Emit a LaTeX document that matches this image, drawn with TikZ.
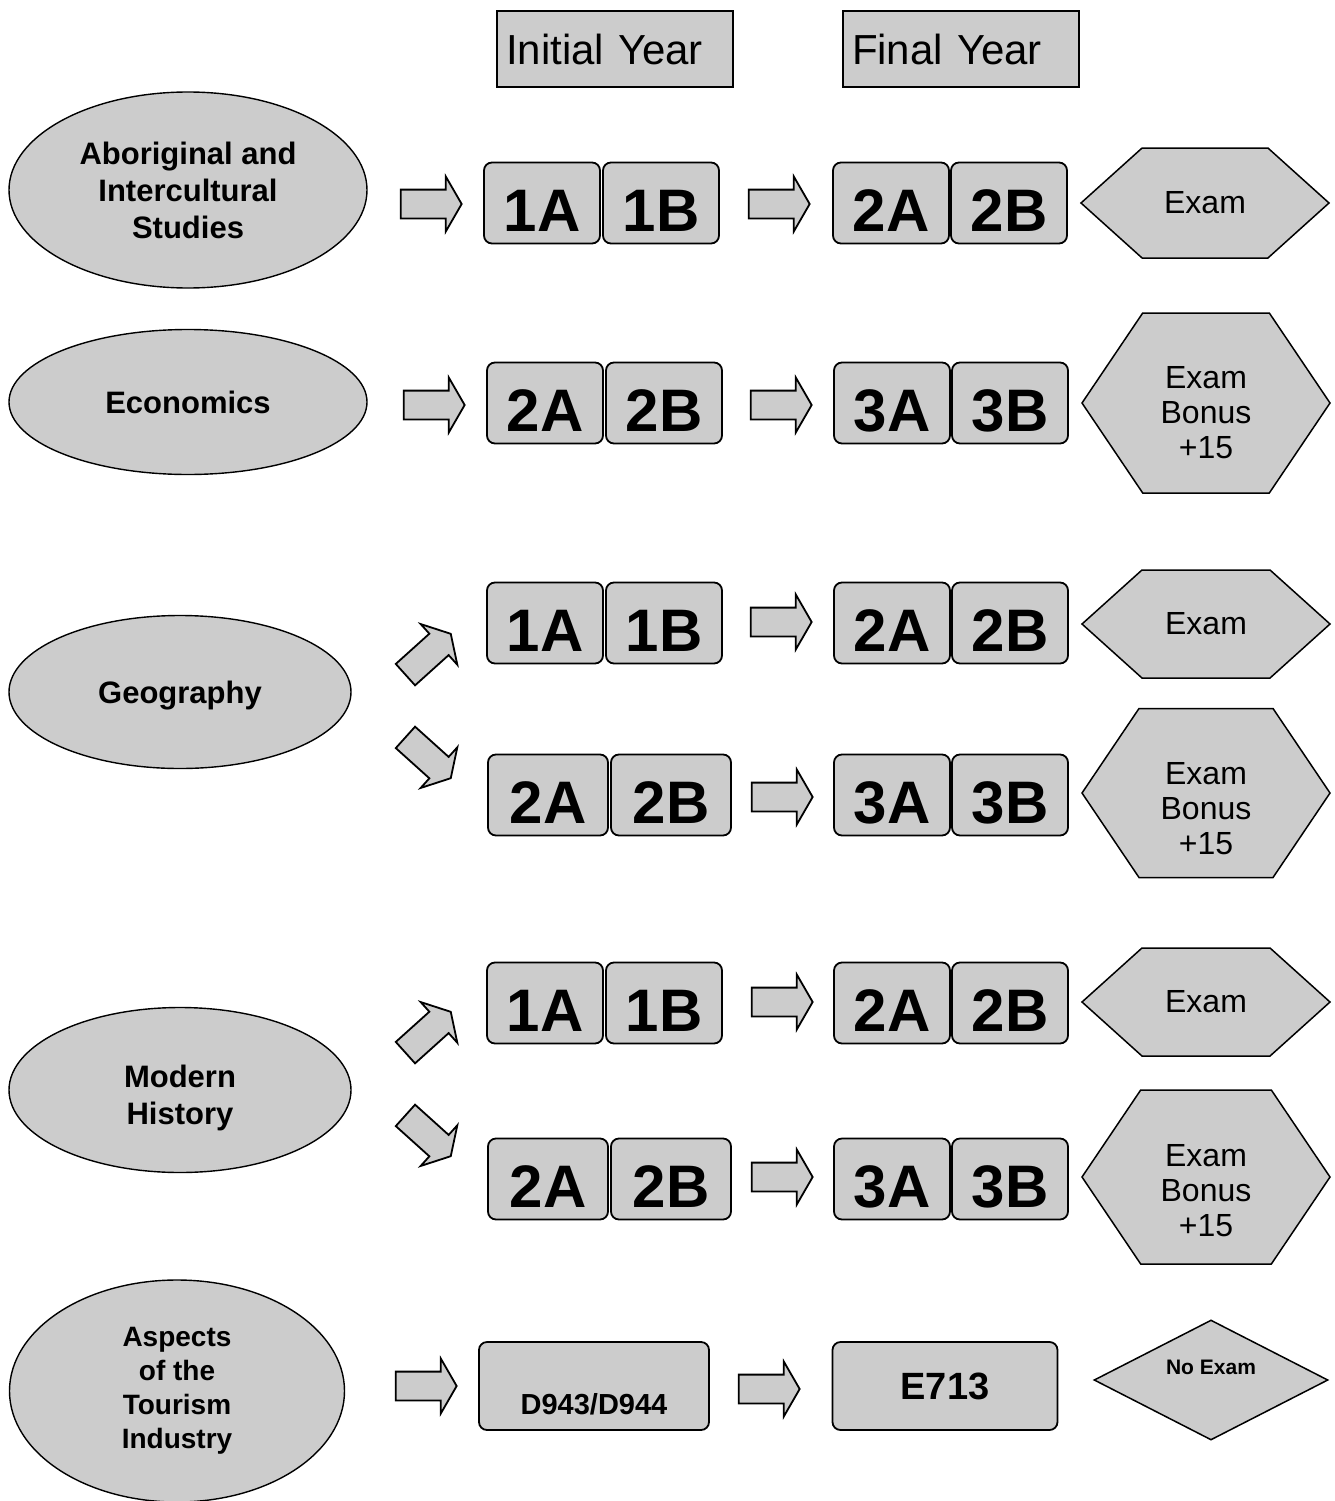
\documentclass[tikz,border=0pt]{standalone}
\usepackage{fontspec}
\setmainfont{Liberation Sans}
\usetikzlibrary{shapes.geometric,shapes.arrows,shapes.symbols}
\definecolor{boxgray}{RGB}{204,204,204}

\begin{document}
\begin{tikzpicture}[x=1pt, y=-1pt,
  grey/.style={draw=black, fill=boxgray, line width=1.8pt},
  year/.style={grey, rectangle, line width=1.5pt, minimum height=76pt, text width=218pt,
    inner xsep=9pt, align=left, font=\fontsize{42}{48}\selectfont},
  subject/.style={grey, ellipse, line width=1.4pt, inner sep=0pt, align=center,
    font=\fontsize{31}{37}\selectfont\bfseries},
  unit/.style={grey, rectangle, rounded corners=8pt, minimum width=116pt, minimum height=81pt,
    inner sep=0pt, text height=57pt, text depth=0pt, font=\fontsize{60}{60}\selectfont\bfseries},
  wide/.style={minimum width=120pt},
  flow/.style={grey, single arrow, minimum height=61pt, minimum width=53pt,
    inner xsep=0pt, inner ysep=13.5pt,
    single arrow head extend=13pt, single arrow tip angle=120},
  exam/.style={grey, signal, signal to=west and east, line width=1.5pt, minimum width=248pt,
    inner sep=0pt, align=center, font=\fontsize{32}{35}\selectfont},
  bonus/.style={exam, signal pointer angle=112, text depth=0pt},
  noexam/.style={grey, diamond, line width=1.5pt, minimum width=234pt, minimum height=120pt,
    inner sep=0pt}
]
  \useasboundingbox (0, 0) rectangle (1335, 1501);

  \node [year] (init) at (615, 49) {Initial Year};
  \node [year] (final) at (961, 49) {Final Year};

  % Aboriginal and Intercultural Studies
  \node [subject, minimum width=358pt, minimum height=196pt] (ab) at (188, 190)
    {Aboriginal and\\Intercultural\\Studies};
  \node [flow] (ab-f1) at (427, 204) {};
  \node [unit] (ab-1a) at (542, 203) {1A};
  \node [unit] (ab-1b) at (661, 203) {1B};
  \node [flow] (ab-f2) at (775, 204) {};
  \node [unit] (ab-2a) at (891, 203) {2A};
  \node [unit] (ab-2b) at (1009, 203) {2B};
  \node [exam, minimum height=110pt, signal pointer angle=84] (ab-x) at (1205, 203) {Exam};

  % Economics
  \node [subject, minimum width=358pt, minimum height=145pt] (ec) at (188, 402) {Economics};
  \node [flow] (ec-f1) at (430, 405) {};
  \node [unit] (ec-2a) at (545, 403) {2A};
  \node [unit] (ec-2b) at (664, 403) {2B};
  \node [flow] (ec-f2) at (777, 405) {};
  \node [unit] (ec-3a) at (892, 403) {3A};
  \node [unit] (ec-3b) at (1010, 403) {3B};
  \node [bonus, minimum height=180pt, text height=110pt] (ec-x) at (1206, 403)
    {Exam\\Bonus\\+15};

  % Geography
  \node [subject, minimum width=342pt, minimum height=153pt, text height=30pt] (ge)
    at (180, 692) {Geography};
  \node [flow, rotate=42] (ge-u) at (425, 657) {};
  \node [flow, rotate=-42] (ge-d) at (425, 755) {};
  \node [unit] (ge-1a) at (545, 623) {1A};
  \node [unit] (ge-1b) at (664, 623) {1B};
  \node [flow] (ge-f1) at (777, 622) {};
  \node [unit] (ge-u2a) at (892, 623) {2A};
  \node [unit] (ge-u2b) at (1010, 623) {2B};
  \node [exam, minimum height=108pt, signal pointer angle=84] (ge-x1) at (1206, 624) {Exam};
  \node [unit, wide] (ge-2a) at (548, 795) {2A};
  \node [unit, wide] (ge-2b) at (671, 795) {2B};
  \node [flow] (ge-f2) at (778, 797) {};
  \node [unit] (ge-3a) at (892, 795) {3A};
  \node [unit] (ge-3b) at (1010, 795) {3B};
  \node [bonus, minimum height=169pt, text height=122pt] (ge-x2) at (1206, 793)
    {Exam\\Bonus\\+15};

  % Modern History
  \node [subject, minimum width=342pt, minimum height=165pt, text height=68pt, text depth=0pt]
    (mh) at (180, 1090) {Modern\\History};
  \node [flow, rotate=42] (mh-u) at (425, 1035) {};
  \node [flow, rotate=-42] (mh-d) at (425, 1133) {};
  \node [unit] (mh-1a) at (545, 1003) {1A};
  \node [unit] (mh-1b) at (664, 1003) {1B};
  \node [flow] (mh-f1) at (778, 1002) {};
  \node [unit] (mh-u2a) at (892, 1003) {2A};
  \node [unit] (mh-u2b) at (1010, 1003) {2B};
  \node [exam, minimum height=108pt, signal pointer angle=84] (mh-x1) at (1206, 1002) {Exam};
  \node [unit, wide] (mh-2a) at (548, 1179) {2A};
  \node [unit, wide] (mh-2b) at (671, 1179) {2B};
  \node [flow] (mh-f2) at (778, 1177) {};
  \node [unit] (mh-3a) at (892, 1179) {3A};
  \node [unit] (mh-3b) at (1010, 1179) {3B};
  \node [bonus, minimum height=174pt, text height=118pt] (mh-x2) at (1206, 1177)
    {Exam\\Bonus\\+15};

  % Aspects of the Tourism Industry
  \node [subject, minimum width=335pt, minimum height=222pt, font=\fontsize{28}{34}\selectfont\bfseries]
    (to) at (177, 1391) {Aspects\\of the\\Tourism\\Industry};
  \node [flow] (to-f1) at (422, 1386) {};
  \node [unit, minimum width=230pt, minimum height=88pt,
    label={[font=\fontsize{29}{29}\selectfont\bfseries, yshift=-18pt]center:D943/D944}]
    (to-d) at (594, 1386) {};
  \node [flow] (to-f2) at (765, 1389) {};
  \node [unit, minimum width=225pt, minimum height=88pt, text height=27pt,
    font=\fontsize{38}{38}\selectfont\bfseries] (to-e) at (945, 1386) {E713};
  \node [noexam, label={[font=\fontsize{21}{21}\selectfont\bfseries, yshift=13pt]center:No Exam}]
    (to-x) at (1211, 1380) {};
\end{tikzpicture}
\end{document}
